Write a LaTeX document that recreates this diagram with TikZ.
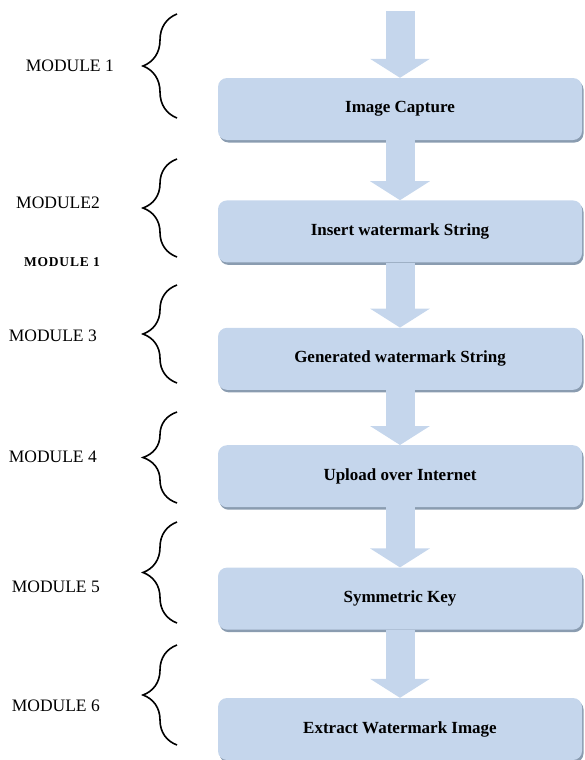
\documentclass[tikz,border=0pt]{standalone}
\usepackage{fontspec}
\setmainfont{Liberation Serif}
\usetikzlibrary{positioning, arrows.meta, shadows, decorations.pathreplacing}
\definecolor{boxblue}{RGB}{197,214,236}
\definecolor{shadowblue}{RGB}{138,156,176}
\tikzset{
x=1pt, y=-1pt, % one unit is one pixel of the sketch, y runs down
stage/.style={fill=boxblue, rounded corners=9pt, minimum width=364pt, minimum height=62pt,
  font=\fontsize{17}{20}\selectfont\bfseries,
  drop shadow={shadow xshift=1.5pt, shadow yshift=-2.5pt, fill=shadowblue, opacity=1}}, % the blue module boxes
flow/.style={draw=boxblue, line width=29pt, -{Triangle[width=59pt, length=19pt]}}, % the fat arrows between boxes
modbrace/.style={decorate, decoration={brace, amplitude=34pt}, line width=1.6pt}, % curly braces on the left
modlabel/.style={anchor=east, inner sep=0pt, font=\fontsize{17.5}{20}\selectfont}, % module names
}

\begin{document}
\begin{tikzpicture}
        \useasboundingbox (0,0) rectangle (585,760);
        % boxes
        \node[stage] (b1) at (400,109) {Image Capture};
        \node[stage, below=60pt of b1] (b2) {Insert watermark String};
        \node[stage, below=65pt of b2] (b3) {Generated watermark String};
        \node[stage, below=55pt of b3] (b4) {Upload over Internet};
        \node[stage, below=60pt of b4] (b5) {Symmetric Key};
        \node[stage, below=68pt of b5] (b6) {Extract Watermark Image};
        % arrows
        \coordinate (in) at (400,11);
        \draw[flow] (in) -- (b1.north);
        \foreach \a/\b in {b1/b2, b2/b3, b3/b4, b4/b5, b5/b6}
                \draw[flow] (\a.south) -- (\b.north);
        % braces
        \foreach \t/\b in {14/118, 159/257, 285/383, 412/503, 522/623, 645/745}
                \draw[modbrace] (177,\b) -- (177,\t);
        % labels
        \node[modlabel] (m1) at (114,66) {MODULE 1};
        \node[modlabel] (m2) at (100,203) {MODULE2};
        \node[modlabel, font=\fontsize{13.5}{16}\selectfont\bfseries\addfontfeature{LetterSpace=6}] (m1b) at (100,262) {MODULE 1};
        \node[modlabel] (m3) at (97,336) {MODULE 3};
        \node[modlabel] (m4) at (97,457) {MODULE 4};
        \node[modlabel] (m5) at (100,587) {MODULE 5};
        \node[modlabel] (m6) at (100,706) {MODULE 6};
\end{tikzpicture}
\end{document}
